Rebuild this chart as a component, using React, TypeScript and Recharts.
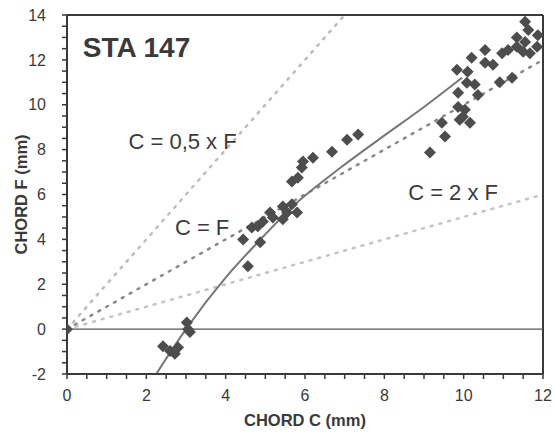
import React from "react";
import {
  ComposedChart,
  Line,
  ReferenceDot,
  ReferenceLine,
  Scatter,
  XAxis,
  YAxis,
  Label,
} from "recharts";

// measured chords, C vs F (mm)
const chordC = [
  0, 2.42, 2.6, 2.72, 2.8, 3.02, 3.05, 3.1, 4.56, 4.44, 4.87, 4.66, 4.81, 4.94,
  5.12, 5.19, 5.44, 5.55, 5.67, 5.8, 5.44, 5.67, 5.82, 5.92, 5.95, 6.2, 6.68,
  7.06, 7.34, 9.15, 9.53, 9.45, 9.86, 9.86, 10.03, 10.16, 9.9, 9.98, 9.83, 10.2,
  10.1, 10.08, 10.28, 10.36, 10.54, 10.54, 10.74, 10.91, 11.22, 10.97, 11.12,
  11.34, 11.55, 11.63, 11.34, 11.87, 11.85, 11.55, 11.67, 11.5,
];
const chordF = [
  0, -0.76, -0.98, -1.1, -0.82, 0.3, 0.0, -0.13, 2.8, 4.0, 3.87, 4.53, 4.58, 4.8,
  5.2, 4.98, 5.47, 5.2, 5.56, 5.2, 4.9, 6.58, 6.75, 7.2, 7.47, 7.64, 7.9, 8.44,
  8.67, 7.87, 8.58, 9.2, 9.9, 10.53, 9.78, 9.2, 9.33, 9.47, 11.56, 12.1, 11.47,
  10.98, 10.9, 10.44, 12.44, 11.87, 11.78, 11.0, 11.2, 12.3, 12.44, 12.58, 13.7,
  13.33, 13.0, 13.1, 12.58, 12.8, 12.3, 12.36,
];

// fitted curve
const curveC = [2.25, 3.0, 4.03, 4.81, 5.87, 6.9, 7.9, 9.0, 9.96];
const curveF = [-2, 0, 2.36, 3.87, 5.75, 7.2, 8.5, 9.9, 11.2];

// reference ratio lines
const halfLineC = [0, 7];
const halfLineF = [0, 14];
const equalLineC = [0, 12];
const equalLineF = [0, 12];
const doubleLineC = [0, 12];
const doubleLineF = [0, 6];

const xTicks = Array.from({ length: 25 }, (_, i) => i * 0.5);
const yTicks = Array.from({ length: 33 }, (_, i) => -2 + i * 0.5);

const zip = (xs: number[], ys: number[]) => xs.map((x, i) => ({ x, y: ys[i] }));

const points = zip(chordC, chordF);
const curve = zip(curveC, curveF);
const halfLine = zip(halfLineC, halfLineF);
const equalLine = zip(equalLineC, equalLineF);
const doubleLine = zip(doubleLineC, doubleLineF);

const FONT = "'Liberation Sans', Arial, sans-serif";
const INK = "#3a3a3a";

const isMajor = (v: number) => Math.abs(v % 2) < 1e-6;

export default function App() {
  return (
    <div style={{ position: "absolute", left: 0, top: 0, background: "#fff" }}>
      <ComposedChart width={554} height={433} margin={{ top: 15, right: 11, bottom: 0, left: 0 }}>
        <XAxis
          type="number"
          dataKey="x"
          domain={[0, 12]}
          ticks={xTicks}
          interval={0}
          allowDataOverflow
          height={59}
          tickSize={5}
          tickMargin={11}
          tickLine={{ stroke: INK, strokeWidth: 1.5 }}
          tickFormatter={(v: number) => (isMajor(v) ? String(v) : "")}
          tick={{ fontSize: 16, fill: INK, fontFamily: FONT }}
          stroke={INK}
          strokeWidth={2}
        >
          <Label
            content={({ viewBox }: any) => (
              <text x={viewBox.x + viewBox.width / 2} y={viewBox.y + 46} textAnchor="middle" dominantBaseline="central" fontSize={16.5} fontWeight={700} fill={INK} fontFamily={FONT}>
                CHORD C (mm)
              </text>
            )}
          />
        </XAxis>
        <YAxis
          type="number"
          dataKey="y"
          domain={[-2, 14]}
          ticks={yTicks}
          interval={0}
          allowDataOverflow
          width={67}
          tickSize={5}
          tickMargin={16}
          tickLine={{ stroke: INK, strokeWidth: 1.5 }}
          tickFormatter={(v: number) => (isMajor(v) ? String(v) : "")}
          tick={{ fontSize: 16, fill: INK, fontFamily: FONT }}
          stroke={INK}
          strokeWidth={2}
        >
          <Label
            content={({ viewBox }: any) => {
              const cx = 21;
              const cy = viewBox.y + viewBox.height / 2;
              return (
                <text x={cx} y={cy} transform={`rotate(-90 ${cx} ${cy})`} textAnchor="middle" dominantBaseline="central" fontSize={16.5} fontWeight={700} fill={INK} fontFamily={FONT}>
                  CHORD F (mm)
                </text>
              );
            }}
          />
        </YAxis>
        <ReferenceLine y={14} stroke={INK} strokeWidth={2} />
        <ReferenceLine x={12} stroke={INK} strokeWidth={2} />
        <ReferenceLine y={0} stroke="#555" strokeWidth={1.3} />
        <Line data={halfLine} dataKey="y" type="linear" stroke="#bdbdbd" strokeWidth={2.5} strokeDasharray="2 7" strokeLinecap="round" dot={false} isAnimationActive={false} />
        <Line data={equalLine} dataKey="y" type="linear" stroke="#8a8a8a" strokeWidth={2.5} strokeDasharray="2 7" strokeLinecap="round" dot={false} isAnimationActive={false} />
        <Line data={doubleLine} dataKey="y" type="linear" stroke="#c4c4c4" strokeWidth={2.5} strokeDasharray="2 7" strokeLinecap="round" dot={false} isAnimationActive={false} />
        <Line data={curve} dataKey="y" type="monotone" stroke="#777" strokeWidth={2} dot={false} isAnimationActive={false} />
        <Scatter
          data={points}
          dataKey="y"
          shape={({ cx, cy }: any) => (
            <polygon points={`${cx},${cy - 6} ${cx + 6},${cy} ${cx},${cy + 6} ${cx - 6},${cy}`} fill="#4d4d4d" />
          )}
          isAnimationActive={false}
        />
        <ReferenceDot x={0.4} y={12.55} r={0} label={{ value: "STA 147", position: "right", offset: 0, fontSize: 28, fontWeight: 700, fill: INK, fontFamily: FONT }} />
        <ReferenceDot x={1.55} y={8.38} r={0} label={{ value: "C = 0,5 x F", position: "right", offset: 0, fontSize: 22, fill: INK, fontFamily: FONT }} />
        <ReferenceDot x={2.72} y={4.55} r={0} label={{ value: "C = F", position: "right", offset: 0, fontSize: 22, fill: INK, fontFamily: FONT }} />
        <ReferenceDot x={8.6} y={6.1} r={0} label={{ value: "C = 2 x F", position: "right", offset: 0, fontSize: 22, fill: INK, fontFamily: FONT }} />
      </ComposedChart>
    </div>
  );
}
